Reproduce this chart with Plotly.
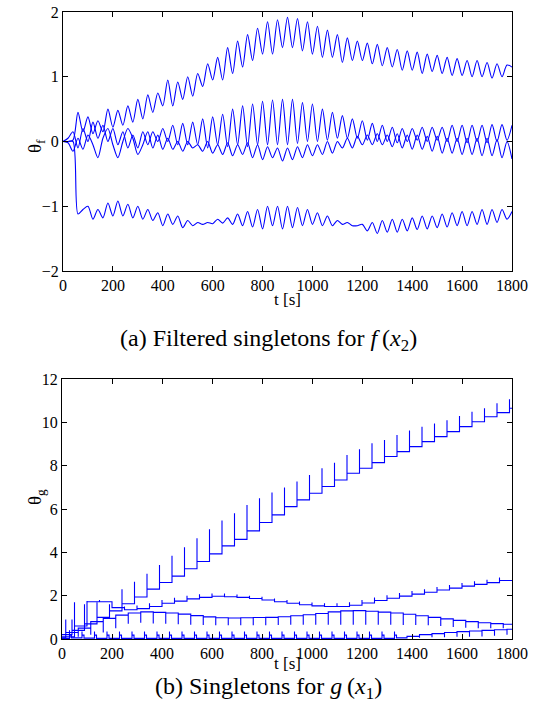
import plotly.graph_objects as go

W, H = 536, 719

# ---------------- top panel data (theta_f), sampled every 20 s ----------------
t_f = list(range(0, 1801, 20))

theta_f_a = [0.0, 0.0, 0.02, 0.45, 0.15, 0.38, 0.12, 0.32, 0.15, 0.5,
             0.22, 0.48, 0.25, 0.55, 0.3, 0.65, 0.35, 0.72, 0.45, 0.75,
             0.55, 0.95, 0.55, 0.92, 0.65, 1.0, 0.7, 1.05, 0.85, 1.2,
             0.95, 1.3, 0.95, 1.45, 1.05, 1.55, 1.15, 1.65, 1.25, 1.75,
             1.35, 1.85, 1.35, 1.88, 1.45, 1.92, 1.45, 1.9, 1.4, 1.85,
             1.35, 1.78, 1.3, 1.72, 1.3, 1.65, 1.22, 1.6, 1.25, 1.55,
             1.25, 1.52, 1.2, 1.5, 1.17, 1.45, 1.15, 1.42, 1.1, 1.4,
             1.1, 1.38, 1.05, 1.35, 1.08, 1.33, 1.05, 1.3, 1.02, 1.28,
             1.02, 1.25, 1.0, 1.25, 1.0, 1.22, 0.98, 1.2, 1.0, 1.18,
             1.15]

theta_f_b = [0.0, 0.05, 0.15, -0.1, 0.2, 0.0, 0.3, 0.05, 0.25, 0.0,
             0.2, -0.05, 0.15, -0.1, 0.1, -0.1, 0.15, -0.05, 0.15, 0.0,
             0.2, 0.0, 0.25, -0.05, 0.28, -0.05, 0.3, -0.05, 0.35, -0.1,
             0.38, -0.05, 0.42, -0.08, 0.5, -0.05, 0.55, -0.08, 0.58, -0.05,
             0.62, -0.05, 0.64, -0.05, 0.65, -0.05, 0.65, -0.03, 0.6, 0.0,
             0.58, 0.0, 0.5, 0.02, 0.45, 0.05, 0.4, 0.05, 0.35, 0.05,
             0.32, 0.02, 0.28, 0.0, 0.25, 0.0, 0.22, -0.02, 0.2, 0.0,
             0.2, 0.02, 0.22, 0.0, 0.22, 0.02, 0.22, 0.0, 0.25, 0.0,
             0.25, -0.02, 0.25, 0.0, 0.25, -0.02, 0.26, 0.0, 0.26, 0.02,
             0.25]

theta_f_c = [0.0, -0.02, -0.15, 0.05, -0.12, 0.1, -0.05, -0.25, 0.05, 0.2,
             -0.05, -0.25, 0.0, 0.2, 0.05, -0.2, -0.05, 0.15, -0.1, 0.1,
             -0.12, 0.05, -0.12, 0.0, -0.15, 0.0, -0.1, -0.05, -0.15, 0.0,
             -0.18, -0.05, -0.2, -0.02, -0.22, -0.05, -0.2, -0.02, -0.25, -0.05,
             -0.28, -0.08, -0.25, -0.1, -0.3, -0.1, -0.28, -0.08, -0.25, -0.05,
             -0.22, -0.05, -0.2, 0.0, -0.18, 0.0, -0.1, 0.05, -0.1, 0.08,
             -0.05, 0.1, -0.05, 0.12, -0.05, 0.1, -0.08, 0.12, -0.1, 0.1,
             -0.12, 0.1, -0.12, 0.08, -0.15, 0.08, -0.18, 0.05, -0.18, 0.05,
             -0.2, 0.05, -0.2, 0.05, -0.22, 0.05, -0.22, 0.03, -0.25, 0.0,
             -0.27]

theta_f_d = [0.0, 0.0, 0.0, -1.12, -1.05, -1.0, -1.2, -1.05, -1.18, -0.95,
             -1.15, -0.92, -1.15, -0.97, -1.18, -1.0, -1.2, -1.05, -1.22, -1.1,
             -1.3, -1.12, -1.28, -1.15, -1.33, -1.22, -1.3, -1.25, -1.28, -1.25,
             -1.27, -1.2, -1.26, -1.18, -1.28, -1.12, -1.3, -1.08, -1.32, -1.05,
             -1.35, -1.0, -1.3, -1.0, -1.35, -1.0, -1.33, -1.02, -1.3, -1.05,
             -1.28, -1.1, -1.3, -1.15, -1.3, -1.22, -1.28, -1.25, -1.3, -1.3,
             -1.28, -1.38, -1.25, -1.42, -1.22, -1.4, -1.2, -1.4, -1.2, -1.38,
             -1.18, -1.36, -1.15, -1.35, -1.15, -1.33, -1.12, -1.32, -1.1, -1.3,
             -1.08, -1.3, -1.08, -1.28, -1.05, -1.28, -1.05, -1.25, -1.05, -1.2,
             -1.08]

# ---------------- bottom panel data (theta_g), step series ----------------
g1_steps = list(range(40, 1800, 50))
g1_levels = [0.2, 0.4, 0.7, 1.0, 1.3, 1.63, 1.94, 2.3, 2.61, 2.9,
             3.24, 3.58, 3.93, 4.3, 4.6, 4.99, 5.38, 5.73, 6.11, 6.42,
             6.73, 7.04, 7.34, 7.65, 7.88, 8.14, 8.42, 8.65, 8.88, 9.11,
             9.34, 9.57, 9.8, 10.03, 10.26, 10.45, 10.65]
g1_spikes = [0.9, 1.6, 1.7, 1.6, 2.3, 2.64, 3.01, 3.42, 3.84, 4.24,
             4.65, 5.07, 5.47, 5.8, 6.19, 6.5, 6.76, 6.99, 7.27, 7.57,
             7.88, 8.14, 8.49, 8.76, 9.03, 9.19, 9.42, 9.62, 9.8, 9.95,
             10.1, 10.29, 10.49, 10.65, 10.88, 11.06]

g2_steps = list(range(50, 1800, 50))
g2_levels = [0.1, 0.6, 1.72, 1.72, 1.45, 1.35, 1.4, 1.5, 1.65, 1.75,
             1.85, 1.92, 1.97, 1.95, 1.92, 1.87, 1.8, 1.72, 1.65, 1.58,
             1.53, 1.5, 1.5, 1.56, 1.66, 1.78, 1.88, 1.98, 2.07, 2.16,
             2.26, 2.35, 2.44, 2.52, 2.6, 2.7]
g2_spikes = [1.7, 1.75, 1.8, 1.6, 1.5, 1.55, 1.65, 1.8, 1.9, 2.0,
             2.07, 2.1, 2.1, 2.05, 2.0, 1.95, 1.87, 1.8, 1.73, 1.68,
             1.65, 1.65, 1.7, 1.8, 1.92, 2.02, 2.12, 2.21, 2.3, 2.4,
             2.49, 2.58, 2.66, 2.74, 2.84]

g3_steps = list(range(15, 1800, 50))
g3_levels = [0.05, 0.3, 0.5, 0.8, 0.95, 1.1, 1.2, 1.25, 1.23, 1.2,
             1.15, 1.08, 1.02, 0.98, 0.97, 0.98, 0.99, 1.0, 1.03, 1.07,
             1.12, 1.18, 1.25, 1.3, 1.31, 1.28, 1.24, 1.2, 1.14, 1.07,
             1.0, 0.93, 0.86, 0.8, 0.75, 0.71, 0.68]
g3_spikes = [0.9, 0.1, 0.2, 0.3, 0.5, 0.7, 0.75, 0.72, 0.7, 0.68,
             0.66, 0.65, 0.64, 0.63, 0.63, 0.64, 0.64, 0.65, 0.66, 0.66,
             0.66, 0.66, 0.66, 0.66, 0.66, 0.66, 0.66, 0.65, 0.65, 0.64,
             0.6, 0.55, 0.52, 0.5, 0.5, 0.5]

g4_steps = list(range(30, 1800, 50))
g4_levels = [0.02, 0.05, 0.04, 0.03, 0.03, 0.03, 0.03, 0.03, 0.03, 0.03,
             0.03, 0.03, 0.03, 0.03, 0.03, 0.03, 0.03, 0.03, 0.03, 0.03,
             0.03, 0.03, 0.03, 0.03, 0.03, 0.03, 0.03, 0.05, 0.12, 0.2,
             0.25, 0.3, 0.34, 0.37, 0.4, 0.43, 0.45]
g4_spikes = [0.4, 0.35, 0.35, 0.35, 0.35, 0.35, 0.35, 0.35, 0.35, 0.35,
             0.35, 0.35, 0.35, 0.35, 0.35, 0.35, 0.35, 0.35, 0.35, 0.35,
             0.35, 0.35, 0.35, 0.35, 0.35, 0.35, 0.35, 0.06, 0.06, 0.08,
             0.08, 0.1, 0.1, 0.12, 0.15, 0.2]
g4_shoulders = [0.18, 0.18, 0.18, 0.18, 0.18, 0.18, 0.18, 0.18, 0.18, 0.18,
                0.18, 0.18, 0.18, 0.18, 0.18, 0.18, 0.18, 0.18, 0.18, 0.18,
                0.18, 0.18, 0.18, 0.18, 0.18, 0.18, 0.18, 0.12, 0.2, 0.25,
                0.3, 0.34, 0.37, 0.4, 0.43, 0.45]

T_END = 1800
SHOULDER_LEN = 8


def step_path(steps, levels, spikes, shoulders=None):
    xs, ys = [0], [levels[0]]
    for k, t in enumerate(steps):
        if shoulders is None:
            xs += [t, t, t]
            ys += [levels[k], spikes[k], levels[k + 1]]
        else:
            xs += [t, t, t, t + SHOULDER_LEN, t + SHOULDER_LEN]
            ys += [levels[k], spikes[k], shoulders[k], shoulders[k], levels[k + 1]]
    xs.append(T_END)
    ys.append(levels[-1])
    return xs, ys


BLUE = "#0000ff"
FONT = '"Liberation Serif", "Times New Roman", Times, serif'

fig = go.Figure()
for series in (theta_f_a, theta_f_b, theta_f_c, theta_f_d):
    fig.add_trace(go.Scatter(x=t_f, y=series, mode="lines",
                             line=dict(color=BLUE, width=1.1, shape="spline", smoothing=0.8),
                             xaxis="x", yaxis="y", showlegend=False, hoverinfo="skip"))

for xs, ys in (step_path(g1_steps, g1_levels, g1_spikes),
               step_path(g2_steps, g2_levels, g2_spikes),
               step_path(g3_steps, g3_levels, g3_spikes),
               step_path(g4_steps, g4_levels, g4_spikes, g4_shoulders)):
    fig.add_trace(go.Scatter(x=xs, y=ys, mode="lines",
                             line=dict(color=BLUE, width=1.1),
                             xaxis="x2", yaxis="y2", showlegend=False, hoverinfo="skip"))


def px(x):
    return x / W


def py(y):
    return 1 - y / H


axis_common = dict(showline=True, linecolor="black", linewidth=1, mirror="allticks",
                   ticks="inside", ticklen=5, tickcolor="black", showgrid=False,
                   zeroline=False, automargin=False,
                   tickfont=dict(family=FONT, size=16, color="black"))

fig.update_layout(
    width=W, height=H, margin=dict(l=0, r=0, t=0, b=0, autoexpand=False),
    paper_bgcolor="white", plot_bgcolor="white",
    font=dict(family=FONT, color="black"),
    xaxis=dict(domain=[px(63), px(512)], range=[0, 1800], tickvals=list(range(0, 1801, 200)),
               anchor="y", **axis_common),
    yaxis=dict(domain=[py(271), py(12)], range=[-2, 2], tickvals=[-2, -1, 0, 1, 2],
               anchor="x", **axis_common),
    xaxis2=dict(domain=[px(62), px(512)], range=[0, 1800], tickvals=list(range(0, 1801, 200)),
                anchor="y2", **axis_common),
    yaxis2=dict(domain=[py(639), py(379)], range=[0, 12], tickvals=list(range(0, 13, 2)),
                anchor="x2", **axis_common),
)

ann_font = dict(family=FONT, size=17, color="black")
cap_font = dict(family=FONT, size=24, color="black")
theta_font = dict(family=FONT, size=19, color="black")


def label(x, y, text, font, angle=0):
    fig.add_annotation(x=px(x), y=py(y), xref="paper", yref="paper", text=text,
                       textangle=angle, showarrow=False, font=font, borderpad=0)


label(287, 299, "t [s]", ann_font)
label(287, 674, "t [s]", ann_font)
label(23, 138, "θ<sub>f</sub>", theta_font, -90)
label(23, 506, "θ<sub>g</sub>", theta_font, -90)
label(268, 340, "(a) Filtered singletons for <i>f</i>\u2009(<i>x</i><sub>2</sub>)", cap_font)
label(268, 704, "(b) Singletons for <i>g</i>\u2009(<i>x</i><sub>1</sub>)", cap_font)

fig.write_html("out.html", config={"displayModeBar": False},
               post_script="document.body.style.margin='0';")
